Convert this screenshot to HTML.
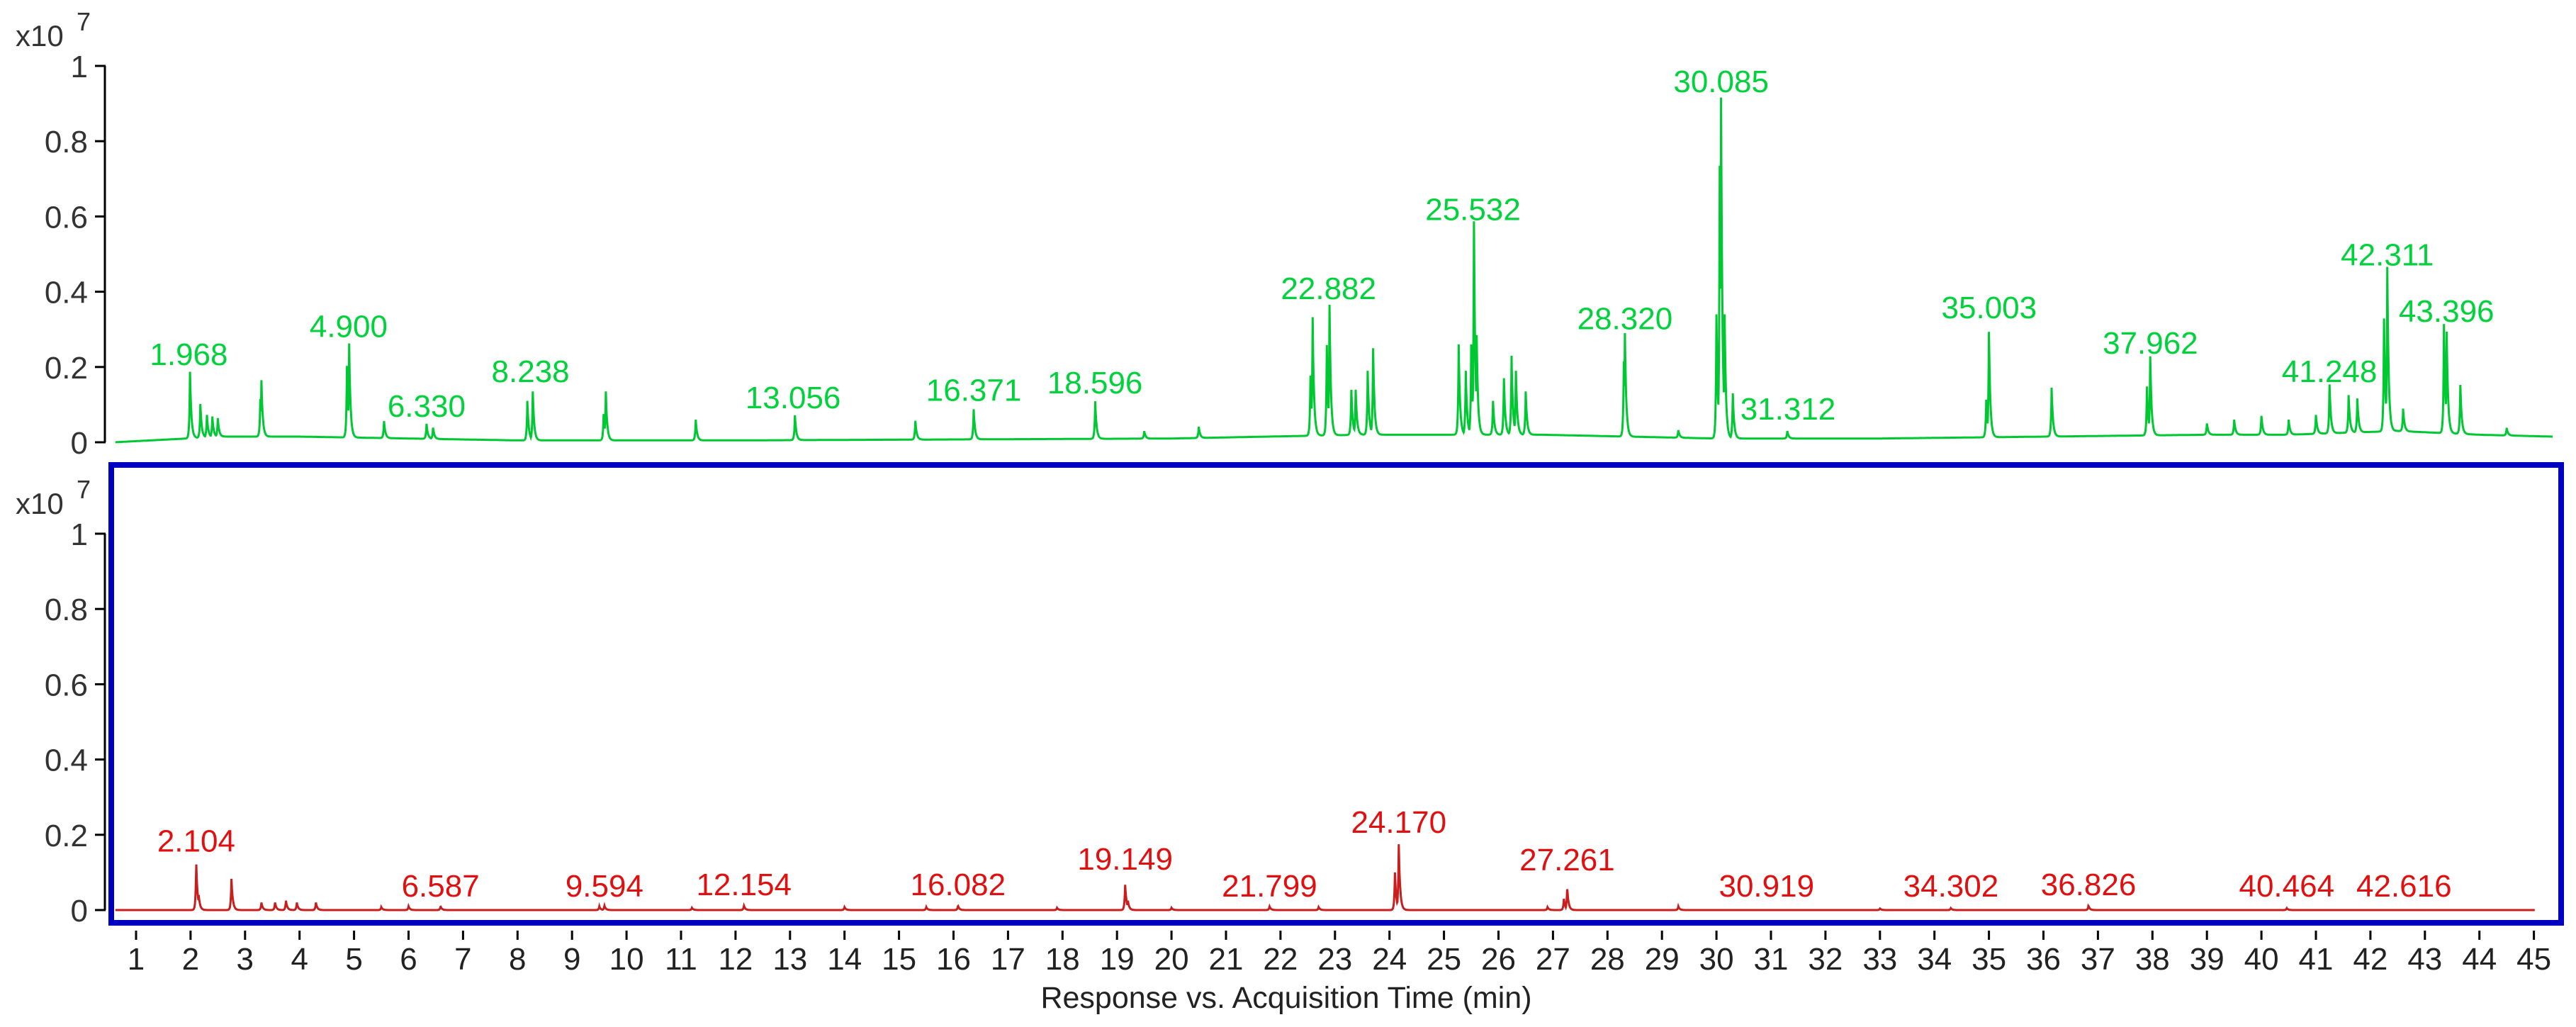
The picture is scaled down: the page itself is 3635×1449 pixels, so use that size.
<!DOCTYPE html>
<html><head><meta charset="utf-8">
<style>
html,body{margin:0;padding:0;background:#fff;}
svg{display:block;font-family:"Liberation Sans",Arial,sans-serif;}
</style></head>
<body>
<svg id="chart" width="3635" height="1449" viewBox="0 0 3635 1449" xmlns="http://www.w3.org/2000/svg">
<rect x="0" y="0" width="3635" height="1449" fill="#fff"/>
<g id="top-panel"></g>
<g id="bottom-panel"></g>
<rect x="157" y="656" width="3457" height="646" fill="none" stroke="#0000c0" stroke-width="8"/>
<g id="x-axis"></g>
<text x="1815" y="1422" font-size="43" text-anchor="middle" fill="#222">Response vs. Acquisition Time (min)</text>
</svg>
<script>
// ---- data (intensity in units of x10^7, time in min) ----
const xTicks = [1,2,3,4,5,6,7,8,9,10,11,12,13,14,15,16,17,18,19,20,21,22,23,24,25,26,27,28,29,30,31,32,33,34,35,36,37,38,39,40,41,42,43,44,45];
const yTicks = [0,0.2,0.4,0.6,0.8,1];
const yTickLabels = ["0","0.2","0.4","0.6","0.8","1"];

const greenPeakTimes = [1.99,2.18,2.3,2.4,2.5,3.28,3.3,4.87,4.91,5.55,6.33,6.45,8.18,8.28,9.58,9.62,11.27,13.09,15.3,16.37,18.6,19.5,20.5,
  22.55,22.59,22.85,22.9,23.3,23.38,23.6,23.7,25.27,25.4,25.5,25.55,25.6,25.9,26.1,26.24,26.32,26.5,28.3,28.32,29.3,
  30.0,30.06,30.085,30.15,30.3,31.3,34.95,35.0,36.15,37.9,37.96,39.0,39.5,40.0,40.5,41.0,41.25,41.6,41.76,42.25,42.31,42.6,43.35,43.4,43.65,44.5];
const greenPeakHeights = [0.177,0.09,0.06,0.055,0.05,0.1,0.15,0.19,0.25,0.045,0.04,0.03,0.105,0.13,0.07,0.13,0.055,0.066,0.05,0.08,0.1,0.02,0.03,
  0.16,0.315,0.24,0.347,0.12,0.12,0.17,0.23,0.24,0.17,0.24,0.567,0.265,0.09,0.15,0.21,0.17,0.115,0.2,0.275,0.02,
  0.33,0.725,0.906,0.33,0.12,0.02,0.1,0.28,0.13,0.13,0.21,0.03,0.04,0.05,0.04,0.05,0.13,0.10,0.09,0.3,0.437,0.06,0.29,0.27,0.13,0.02];
const greenBaseTimes = [0.6,2.6,4.0,8.0,12.0,20.0,23.5,26.8,30.0,33.0,36.0,39.0,40.5,42.5,44.0,45.35];
const greenBaseValues = [0.0,0.015,0.015,0.005,0.005,0.01,0.02,0.02,0.01,0.01,0.015,0.02,0.02,0.03,0.02,0.015];

const redPeakTimes = [2.104,2.15,2.75,3.3,3.55,3.75,3.95,4.3,5.5,6.0,6.587,9.5,9.594,11.2,12.154,14.0,15.5,16.082,17.9,19.149,19.2,20.0,21.799,22.7,24.1,24.17,26.9,27.2,27.261,29.3,33.0,34.3,36.826,40.464];
const redPeakHeights = [0.126,0.04,0.083,0.02,0.02,0.025,0.02,0.02,0.008,0.01,0.01,0.01,0.012,0.006,0.012,0.008,0.008,0.012,0.006,0.07,0.025,0.006,0.01,0.008,0.1,0.175,0.008,0.03,0.06,0.01,0.004,0.005,0.012,0.005];

const greenLabels = ["1.968","4.900","6.330","8.238","13.056","16.371","18.596","22.882","25.532","28.320","30.085","31.312","35.003","37.962","41.248","42.311","43.396"];
const greenLabelTimes = [1.968,4.9,6.33,8.238,13.056,16.371,18.596,22.882,25.532,28.32,30.085,31.312,35.003,37.962,41.248,42.311,43.396];
const greenLabelLevels = [0.205,0.28,0.068,0.16,0.09,0.11,0.13,0.38,0.59,0.30,0.93,0.06,0.33,0.235,0.16,0.47,0.32];

const redLabels = ["2.104","6.587","9.594","12.154","16.082","19.149","21.799","24.170","27.261","30.919","34.302","36.826","40.464","42.616"];
const redLabelTimes = [2.104,6.587,9.594,12.154,16.082,19.149,21.799,24.17,27.261,30.919,34.302,36.826,40.464,42.616];
const redLabelLevels = [0.155,0.036,0.036,0.04,0.04,0.107,0.036,0.205,0.105,0.036,0.036,0.04,0.036,0.036];

// ---- scales ----
const X0 = 192, XS = 76.9;
function xScale(t){ return X0 + (t - 1) * XS; }
function yTop(v){ return 624 - v * 531; }
function yBot(v){ return 1284 - v * 531; }

const NS = "http://www.w3.org/2000/svg";
function mk(tag, attrs, parent){
  const el = document.createElementNS(NS, tag);
  for (const k in attrs) el.setAttribute(k, attrs[k]);
  parent.appendChild(el);
  return el;
}
function baseAt(t, times, vals){
  if (!times) return 0;
  for (let i = 0; i < times.length - 1; i++){
    if (t >= times[i] && t <= times[i+1]){
      const f = (t - times[i]) / (times[i+1] - times[i]);
      return vals[i] + f * (vals[i+1] - vals[i]);
    }
  }
  return 0;
}
function trace(pt, ph, bt, bv, t0, t1, ys){
  let d = "";
  for (let t = t0; t <= t1; t += 0.005){
    const b = baseAt(t, bt, bv);
    let v = b;
    for (let i = 0; i < pt.length; i++){
      const dt = t - pt[i];
      const w = dt < 0 ? 0.012 : 0.025;
      if (Math.abs(dt) < 0.2) v = Math.max(v, b + ph[i] * Math.exp(-Math.abs(dt) / w));
    }
    d += (d ? "L" : "M") + xScale(t).toFixed(1) + " " + ys(v).toFixed(1);
  }
  return d;
}
function yAxis(parent, ys, name){
  const g = mk("g", {}, parent);
  
  
  mk("line", {x1:148, y1:ys(1), x2:148, y2:ys(0), stroke:"#000", "stroke-width":3}, g);
  yTicks.forEach((v, i) => {
    const tk = mk("line", {x1:134, y1:ys(v), x2:149, y2:ys(v), stroke:"#000", "stroke-width":3}, g);
    
    
    const tx = mk("text", {x:124, y:ys(v) + 16, "font-size":44, "text-anchor":"end", fill:"#333"}, g);
    
    
    tx.textContent = yTickLabels[i];
  });
  const ex = mk("text", {x:22, y:ys(1) - 28, "font-size":42, fill:"#333"}, g);
  
  
  ex.textContent = "x10";
  const sup = mk("text", {x:108, y:ys(1) - 50, "font-size":36, fill:"#333"}, g);
  
  
  sup.textContent = "7";
}
function labels(parent, texts, times, levels, ys, color, name){
  texts.forEach((s, i) => {
    const tx = mk("text", {x:xScale(times[i]), y:ys(levels[i]), "font-size":44, "text-anchor":"middle", fill:color}, parent);
    
    
    tx.textContent = s;
  });
}

const topPanel = document.getElementById("top-panel");
const botPanel = document.getElementById("bottom-panel");
yAxis(topPanel, yTop, "top-y-axis");
yAxis(botPanel, yBot, "bottom-y-axis");

const gl = mk("path", {d:trace(greenPeakTimes, greenPeakHeights, greenBaseTimes, greenBaseValues, 0.62, 45.35, yTop), fill:"none", stroke:"#00c832", "stroke-width":3}, topPanel);


labels(topPanel, greenLabels, greenLabelTimes, greenLabelLevels, yTop, "#00d23c", "peak-label-green");

const rl = mk("path", {d:trace(redPeakTimes, redPeakHeights, null, null, 0.62, 45.02, yBot), fill:"none", stroke:"#c81e1e", "stroke-width":3}, botPanel);


labels(botPanel, redLabels, redLabelTimes, redLabelLevels, yBot, "#e01010", "peak-label-red");

const xa = document.getElementById("x-axis");
xTicks.forEach(t => {
  const tk = mk("line", {x1:xScale(t), y1:1313, x2:xScale(t), y2:1326, stroke:"#000", "stroke-width":3}, xa);
  
  
  const tx = mk("text", {x:xScale(t), y:1368, "font-size":44, "text-anchor":"middle", fill:"#222"}, xa);
  
  
  tx.textContent = String(t);
});
</script>
</body></html>
